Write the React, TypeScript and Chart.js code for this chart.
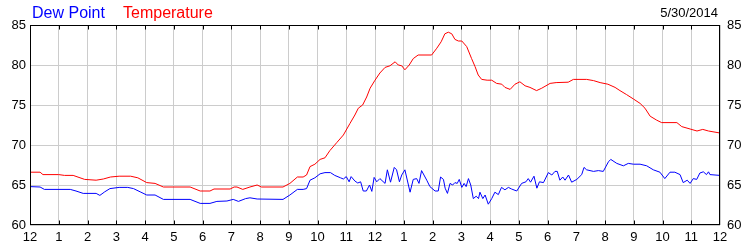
import React, { useEffect, useRef } from "react";
import { Chart, registerables } from "chart.js";

Chart.register(...registerables);

const hourLabels = ["12", "1", "2", "3", "4", "5", "6", "7", "8", "9", "10", "11", "12", "1", "2", "3", "4", "5", "6", "7", "8", "9", "10", "11", "12"];
const yTicks = [60, 65, 70, 75, 80, 85];
const dateLabel = "5/30/2014";

const tempHours = [0, 0.35, 0.45, 1.0, 1.2, 1.5, 1.9, 2.3, 2.55, 2.8, 3.1, 3.5, 3.75, 4.06, 4.35, 4.64, 5.57, 5.92, 6.26, 6.4, 6.96, 7.1, 7.2, 7.4, 7.65, 7.9, 8.05, 8.8, 9.04, 9.3, 9.5, 9.62, 9.74, 9.91, 10.09, 10.26, 10.43, 10.67, 10.9, 11.13, 11.3, 11.42, 11.57, 11.71, 11.83, 12.0, 12.17, 12.35, 12.52, 12.7, 12.81, 12.93, 13.04, 13.19, 13.33, 13.5, 13.97, 14.15, 14.3, 14.43, 14.55, 14.67, 14.78, 14.9, 15.02, 15.19, 15.36, 15.48, 15.59, 15.71, 15.9, 16.06, 16.23, 16.41, 16.52, 16.7, 16.87, 17.04, 17.22, 17.39, 17.62, 17.8, 18.09, 18.3, 18.72, 18.9, 19.36, 19.6, 19.83, 20.1, 20.35, 20.52, 20.75, 20.99, 21.22, 21.39, 21.57, 21.8, 21.97, 22.5, 22.67, 22.96, 23.2, 23.4, 23.6, 24];
const tempValues = [66.6, 66.6, 66.3, 66.3, 66.2, 66.2, 65.7, 65.6, 65.75, 66.0, 66.1, 66.1, 65.9, 65.3, 65.2, 64.75, 64.75, 64.25, 64.25, 64.5, 64.5, 64.75, 64.75, 64.45, 64.75, 65.0, 64.75, 64.75, 65.2, 66.0, 66.0, 66.25, 67.3, 67.6, 68.2, 68.4, 69.3, 70.3, 71.25, 72.7, 73.75, 74.6, 75.0, 76.0, 77.1, 78.1, 79.0, 79.7, 79.9, 80.4, 80.0, 79.9, 79.4, 80.0, 80.8, 81.25, 81.25, 82.1, 82.9, 83.9, 84.1, 83.9, 83.2, 83.0, 83.0, 82.3, 80.8, 79.8, 78.75, 78.2, 78.1, 78.1, 77.7, 77.6, 77.2, 76.95, 77.6, 77.9, 77.4, 77.2, 76.8, 77.1, 77.7, 77.8, 77.85, 78.2, 78.2, 78.05, 77.8, 77.6, 77.2, 76.8, 76.3, 75.75, 75.2, 74.6, 73.6, 73.1, 72.8, 72.8, 72.3, 72.0, 71.75, 71.95, 71.75, 71.5];

const dewHours = [0, 0.35, 0.5, 1.4, 1.6, 1.85, 2.3, 2.43, 2.6, 2.78, 3.1, 3.4, 3.6, 3.83, 4.06, 4.35, 4.64, 5.57, 5.92, 6.26, 6.5, 6.85, 7.07, 7.25, 7.5, 7.65, 7.9, 8.8, 9.04, 9.3, 9.5, 9.62, 9.74, 9.91, 10.09, 10.26, 10.45, 10.6, 10.8, 10.9, 11.0, 11.1, 11.17, 11.3, 11.4, 11.5, 11.59, 11.7, 11.81, 11.89, 11.97, 12.06, 12.17, 12.35, 12.43, 12.54, 12.67, 12.75, 12.85, 12.93, 13.04, 13.22, 13.33, 13.45, 13.53, 13.62, 13.8, 13.91, 14.09, 14.2, 14.28, 14.38, 14.44, 14.52, 14.61, 14.7, 14.78, 14.86, 14.93, 15.02, 15.1, 15.17, 15.25, 15.33, 15.42, 15.52, 15.6, 15.65, 15.75, 15.83, 15.94, 16.06, 16.17, 16.29, 16.4, 16.52, 16.64, 16.75, 16.93, 17.1, 17.25, 17.33, 17.41, 17.53, 17.63, 17.72, 17.86, 18.03, 18.15, 18.26, 18.34, 18.43, 18.53, 18.61, 18.73, 18.84, 19.02, 19.19, 19.27, 19.36, 19.6, 19.77, 19.94, 20.12, 20.2, 20.41, 20.64, 20.81, 20.99, 21.22, 21.45, 21.68, 21.91, 22.08, 22.26, 22.43, 22.61, 22.72, 22.86, 22.96, 23.07, 23.19, 23.3, 23.42, 23.53, 23.6, 23.65, 24];
const dewValues = [64.8, 64.75, 64.45, 64.45, 64.25, 63.95, 63.95, 63.7, 64.15, 64.55, 64.7, 64.7, 64.55, 64.15, 63.75, 63.75, 63.2, 63.2, 62.7, 62.7, 62.95, 63.0, 63.2, 62.95, 63.3, 63.4, 63.25, 63.2, 63.75, 64.45, 64.45, 64.55, 65.6, 65.9, 66.4, 66.55, 66.55, 66.2, 65.9, 65.75, 66.05, 65.4, 66.05, 65.5, 65.25, 65.4, 64.25, 64.25, 65.0, 64.2, 65.95, 65.4, 65.8, 65.2, 66.9, 65.35, 67.2, 66.9, 65.4, 66.25, 66.9, 64.1, 65.7, 65.8, 65.2, 66.8, 65.6, 64.8, 64.25, 64.25, 66.0, 65.7, 64.6, 63.95, 65.2, 65.0, 65.3, 65.2, 65.7, 64.7, 65.2, 64.8, 65.8, 65.0, 63.3, 63.6, 63.3, 64.1, 63.3, 63.75, 62.6, 63.3, 64.1, 63.8, 64.7, 64.4, 64.7, 64.5, 64.25, 65.2, 65.4, 65.8, 65.35, 66.1, 64.6, 65.4, 65.3, 66.55, 66.25, 66.7, 66.7, 65.6, 66.0, 65.6, 66.25, 65.35, 65.7, 66.3, 67.2, 66.9, 66.7, 66.8, 66.7, 67.9, 68.2, 67.7, 67.4, 67.7, 67.6, 67.6, 67.4, 66.9, 66.6, 65.8, 66.6, 66.6, 66.3, 65.3, 65.6, 65.2, 65.8, 65.7, 66.5, 66.65, 66.3, 66.65, 66.3, 66.2];

const FONT = '"Liberation Sans", Arial, sans-serif';

const framePlugin = {
  id: "frameAndTitle",
  afterDraw(chart: any) {
    const { ctx, chartArea } = chart;
    const xs = chart.scales.x;
    const l = Math.round(chartArea.left) + 0.5;
    const r = Math.round(chartArea.right) - 0.5;
    const t = Math.round(chartArea.top) + 0.5;
    const b = Math.round(chartArea.bottom) - 0.5;
    ctx.save();
    ctx.strokeStyle = "#000";
    ctx.lineWidth = 1;
    ctx.beginPath();
    for (let i = 1; i < hourLabels.length - 1; i++) {
      const px = Math.round(xs.getPixelForValue(i)) + 0.5;
      ctx.moveTo(px, t);
      ctx.lineTo(px, t + 4);
      ctx.moveTo(px, b);
      ctx.lineTo(px, b - 4);
    }
    ctx.stroke();
    ctx.strokeRect(l, t, r - l, b - t);
    ctx.textBaseline = "alphabetic";
    ctx.textAlign = "left";
    ctx.font = "16px " + FONT;
    ctx.fillStyle = "#0000ff";
    ctx.fillText("Dew Point", 32, 18);
    ctx.fillStyle = "#ff0000";
    ctx.fillText("Temperature", 123, 18);
    ctx.font = "13px " + FONT;
    ctx.fillStyle = "#000";
    ctx.textAlign = "right";
    ctx.fillText(dateLabel, 718, 17);
    ctx.restore();
  },
};

export default function App() {
  const ref = useRef<HTMLCanvasElement | null>(null);
  useEffect(() => {
    if (!ref.current) return;
    const tickFont = { family: FONT, size: 13 };
    const chart = new Chart(ref.current, {
      type: "line",
      data: {
        datasets: [
          {
            label: "Temperature",
            data: tempHours.map((h, i) => ({ x: h, y: tempValues[i] })),
            borderColor: "#ff0000",
            borderWidth: 1,
            pointRadius: 0,
            tension: 0,
            yAxisID: "y",
          },
          {
            label: "Dew Point",
            data: dewHours.map((h, i) => ({ x: h, y: dewValues[i] })),
            borderColor: "#0000ff",
            borderWidth: 1,
            pointRadius: 0,
            tension: 0,
            yAxisID: "y",
          },
        ],
      },
      options: {
        responsive: false,
        animation: false,
        layout: { padding: { top: 25, left: 0, right: 0, bottom: 0 } },
        plugins: { legend: { display: false }, title: { display: false }, tooltip: { enabled: false } },
        scales: {
          x: {
            type: "linear",
            min: 0,
            max: 24,
            position: "bottom",
            afterFit: (s: any) => { s.height = 25; },
            afterBuildTicks: (s: any) => { s.ticks = hourLabels.map((_, i) => ({ value: i })); },
            ticks: {
              autoSkip: false,
              maxRotation: 0,
              padding: 5,
              color: "#000",
              font: tickFont,
              callback: (v: any) => hourLabels[Math.round(Number(v))],
            },
            grid: { color: "#cccccc", drawTicks: false },
            border: { display: false },
          },
          y: {
            min: 60,
            max: 85,
            position: "left",
            afterFit: (s: any) => { s.width = 30; },
            afterBuildTicks: (s: any) => { s.ticks = yTicks.map((v) => ({ value: v })); },
            ticks: { padding: 4, color: "#000", font: tickFont },
            grid: { color: "#cccccc", drawTicks: false },
            border: { display: false },
          },
          y2: {
            min: 60,
            max: 85,
            position: "right",
            afterFit: (s: any) => { s.width = 30; },
            afterBuildTicks: (s: any) => { s.ticks = yTicks.map((v) => ({ value: v })); },
            ticks: { padding: 7, color: "#000", font: tickFont },
            grid: { display: false, drawTicks: false },
            border: { display: false },
          },
        },
      },
      plugins: [framePlugin],
    } as any);
    return () => chart.destroy();
  }, []);
  return (
    <div style={{ position: "fixed", left: 0, top: 0, width: 750, height: 250, background: "#fff" }}>
      <canvas ref={ref} width={750} height={250} style={{ display: "block" }} />
    </div>
  );
}
